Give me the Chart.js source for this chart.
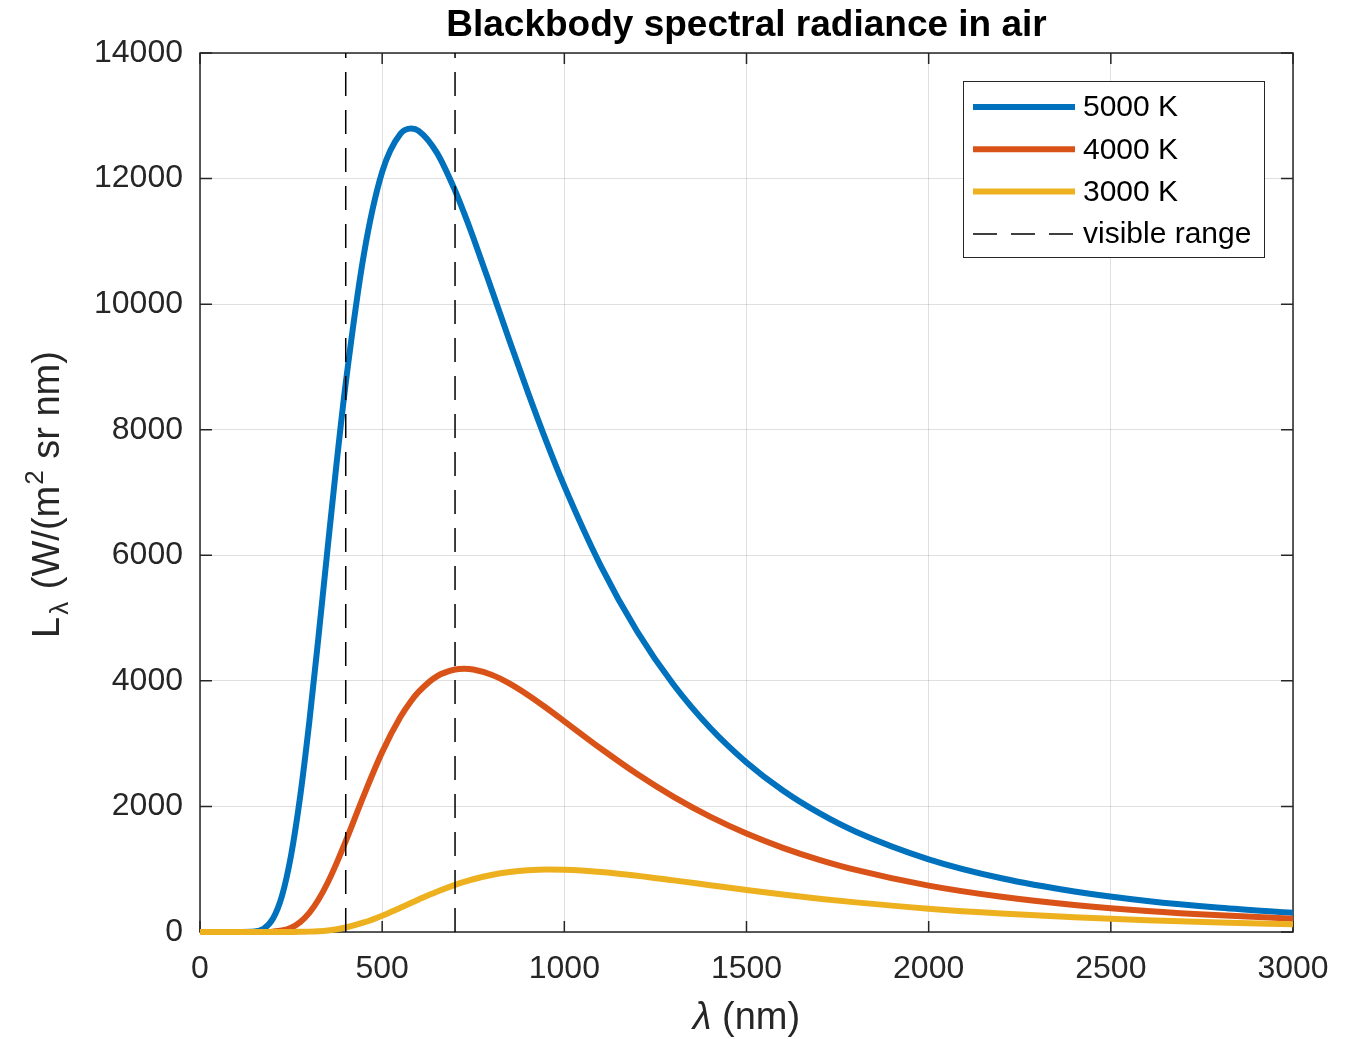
<!DOCTYPE html>
<html>
<head>
<meta charset="utf-8">
<title>Blackbody spectral radiance in air</title>
<script src="https://cdn.jsdelivr.net/npm/chart.js@4.4.1/dist/chart.umd.min.js"></script>
<style>
  html, body { margin: 0; padding: 0; background: #ffffff; }
  #wrap { position: relative; width: 1357px; height: 1039px; }
</style>
</head>
<body>
<div id="wrap"><canvas id="chart"></canvas></div>
<script>
// Wavelength samples (nm) and spectral radiance L_lambda (W/(m^2 sr nm)) per temperature
const wavelengthNm = [0, 50, 100, 150, 175, 200, 225, 250, 275, 300, 325, 350, 375, 400, 450, 500, 550, 580, 600, 650,
  700, 725, 750, 800, 850, 900, 950, 1000, 1100, 1200, 1300, 1400, 1500, 1600, 1700, 1800, 2000, 2200, 2400, 2600, 2800, 3000];
const radiance5000K = [0, 0, 0, 7, 52, 210, 576, 1223, 2162, 3347, 4691, 6096, 7471, 8743, 10800, 12106, 12712, 12797, 12761, 12414,
  11811, 11449, 11061, 10242, 9409, 8596, 7822, 7101, 5832, 4786, 3937, 3252, 2700, 2253, 1892, 1597, 1158, 856, 646, 495, 386, 305];
const radiance4000K = [0, 0, 0, 0, 1, 6, 24, 69, 158, 304, 513, 780, 1097, 1446, 2181, 2865, 3423, 3684, 3825, 4072,
  4181, 4194, 4182, 4098, 3957, 3776, 3572, 3356, 2922, 2515, 2152, 1837, 1568, 1341, 1150, 989, 738, 560, 430, 335, 265, 212];
const radiance3000K = [0, 0, 0, 0, 0, 0, 0, 1, 2, 6, 13, 25, 45, 72, 152, 260, 387, 465, 517, 642,
  751, 798, 840, 908, 955, 983, 995, 992, 957, 896, 822, 745, 668, 597, 531, 472, 372, 295, 235, 188, 152, 124];

// Edges of the visible band (nm)
const visibleRangeNm = [400, 700];

// Axis ticks
const xTickValues = [0, 500, 1000, 1500, 2000, 2500, 3000];
const yTickValues = [0, 2000, 4000, 6000, 8000, 10000, 12000, 14000];

// Labels
const seriesLabels = ['5000 K', '4000 K', '3000 K'];
const visibleLabel = 'visible range';
const titleText = 'Blackbody spectral radiance in air';

const FONT = '"Liberation Sans", Arial, Helvetica, sans-serif';
const AXIS_COLOR = '#262626';
const COLORS = ['#0072BD', '#D95319', '#EDB120'];

const toPoints = ys => wavelengthNm.map((x, i) => ({ x, y: ys[i] }));
const yMin = yTickValues[0];
const yMax = yTickValues[yTickValues.length - 1];

const curveStyle = (label, values, color, order) => ({
  label,
  data: toPoints(values),
  borderColor: color,
  backgroundColor: color,
  borderWidth: 6,
  pointRadius: 0,
  fill: false,
  cubicInterpolationMode: 'monotone',
  borderJoinStyle: 'round',
  clip: 10,
  order
});

const bandLine = (nm) => ({
  label: visibleLabel,
  data: [{ x: nm, y: yMin }, { x: nm, y: yMax }],
  borderColor: '#000000',
  backgroundColor: '#000000',
  borderWidth: 1.5,
  borderDash: [24, 14],
  pointRadius: 0,
  fill: false,
  tension: 0,
  clip: 10,
  order: 0
});

const datasets = [
  curveStyle(seriesLabels[0], radiance5000K, COLORS[0], 3),
  curveStyle(seriesLabels[1], radiance4000K, COLORS[1], 2),
  curveStyle(seriesLabels[2], radiance3000K, COLORS[2], 1),
  bandLine(visibleRangeNm[0]),
  bandLine(visibleRangeNm[1])
];
// Datasets shown in the legend box, top to bottom
const legendOrder = [0, 1, 2, 3];

// Draws a sequence of text runs (with sub/superscripts) centred on (0,0) of the current transform
function drawRuns(ctx, runs, baseSize) {
  const fontOf = r => `${r.italic ? 'italic ' : ''}${r.size || baseSize}px ${FONT}`;
  let total = 0;
  runs.forEach(r => { ctx.font = fontOf(r); r.w = ctx.measureText(r.t).width + (r.gap || 0); total += r.w; });
  let x = -total / 2;
  ctx.textAlign = 'left';
  ctx.textBaseline = 'alphabetic';
  runs.forEach(r => {
    ctx.font = fontOf(r);
    ctx.fillText(r.t, x + (r.pre || 0), r.dy || 0);
    x += r.w;
  });
}

const decorations = {
  id: 'decorations',
  beforeDatasetsDraw(chart) {
    const { ctx, chartArea: a, scales: { x, y } } = chart;
    ctx.save();
    ctx.strokeStyle = AXIS_COLOR;
    ctx.lineWidth = 1.5;
    ctx.beginPath();
    x.ticks.forEach(t => {
      const px = x.getPixelForValue(t.value);
      ctx.moveTo(px, a.bottom); ctx.lineTo(px, a.bottom - 11);
      ctx.moveTo(px, a.top); ctx.lineTo(px, a.top + 11);
    });
    y.ticks.forEach(t => {
      const py = y.getPixelForValue(t.value);
      ctx.moveTo(a.left, py); ctx.lineTo(a.left + 12, py);
      ctx.moveTo(a.right, py); ctx.lineTo(a.right - 12, py);
    });
    ctx.stroke();
    ctx.strokeRect(a.left, a.top, a.right - a.left, a.bottom - a.top);
    ctx.restore();
  },
  afterDraw(chart) {
    const { ctx, chartArea: a } = chart;
    const cx = (a.left + a.right) / 2;
    const cy = (a.top + a.bottom) / 2;
    ctx.save();

    // Title
    ctx.fillStyle = '#000000';
    ctx.font = `bold 37px ${FONT}`;
    ctx.textAlign = 'center';
    ctx.textBaseline = 'alphabetic';
    ctx.fillText(titleText, cx, a.top - 17);

    // x-axis title
    ctx.fillStyle = AXIS_COLOR;
    ctx.save();
    ctx.translate(cx, a.bottom + 97);
    drawRuns(ctx, [{ t: 'λ', italic: true }, { t: ' (nm)' }], 38);
    ctx.restore();

    // y-axis title
    ctx.save();
    ctx.translate(a.left - 141, cy + 2);
    ctx.rotate(-Math.PI / 2);
    drawRuns(ctx, [
      { t: 'L' },
      { t: 'λ', size: 26, dy: 9, pre: 2, gap: 4 },
      { t: ' (W/(m' },
      { t: '2', size: 26, dy: -16, pre: 1, gap: 2 },
      { t: ' sr nm)' }
    ], 38);
    ctx.restore();

    // Legend box
    const box = { x: 963.5, y: 81.5, w: 301, h: 176 };
    ctx.fillStyle = '#ffffff';
    ctx.fillRect(box.x, box.y, box.w, box.h);
    ctx.strokeStyle = AXIS_COLOR;
    ctx.lineWidth = 1;
    ctx.strokeRect(box.x, box.y, box.w, box.h);
    const rowY0 = 107, rowStep = 42.3;
    legendOrder.forEach((di, k) => {
      const ds = chart.data.datasets[di];
      const yy = rowY0 + k * rowStep;
      ctx.save();
      ctx.strokeStyle = ds.borderColor;
      ctx.lineWidth = ds.borderWidth;
      ctx.setLineDash(ds.borderDash || []);
      ctx.lineCap = 'butt';
      ctx.beginPath();
      ctx.moveTo(973, yy);
      ctx.lineTo(1075, yy);
      ctx.stroke();
      ctx.restore();
      ctx.fillStyle = '#000000';
      ctx.font = `30px ${FONT}`;
      ctx.textAlign = 'left';
      ctx.textBaseline = 'middle';
      ctx.fillText(ds.label, 1083, yy + 1);
    });
    ctx.restore();
  }
};

new Chart(document.getElementById('chart'), {
  type: 'line',
  data: { datasets },
  options: {
    responsive: true,
    maintainAspectRatio: false,
    animation: false,
    events: [],
    layout: { padding: { top: 53, right: 64, left: 0, bottom: 0 } },
    plugins: {
      legend: { display: false },
      title: { display: false },
      tooltip: { enabled: false }
    },
    scales: {
      x: {
        type: 'linear',
        min: xTickValues[0],
        max: xTickValues[xTickValues.length - 1],
        afterBuildTicks: s => { s.ticks = xTickValues.map(v => ({ value: v })); },
        afterFit: s => { s.height = 107; },
        grid: { color: 'rgba(38,38,38,0.15)', lineWidth: 1, drawTicks: false },
        border: { display: false },
        ticks: {
          color: AXIS_COLOR,
          font: { family: FONT, size: 32 },
          padding: 18,
          maxRotation: 0,
          autoSkip: false,
          callback: v => String(v)
        }
      },
      y: {
        type: 'linear',
        min: yMin,
        max: yMax,
        afterBuildTicks: s => { s.ticks = yTickValues.map(v => ({ value: v })); },
        afterFit: s => { s.width = 200; },
        grid: { color: 'rgba(38,38,38,0.15)', lineWidth: 1, drawTicks: false },
        border: { display: false },
        ticks: {
          color: AXIS_COLOR,
          font: { family: FONT, size: 32 },
          padding: 17,
          autoSkip: false,
          callback: v => String(v)
        }
      }
    }
  },
  plugins: [decorations]
});
</script>
</body>
</html>
